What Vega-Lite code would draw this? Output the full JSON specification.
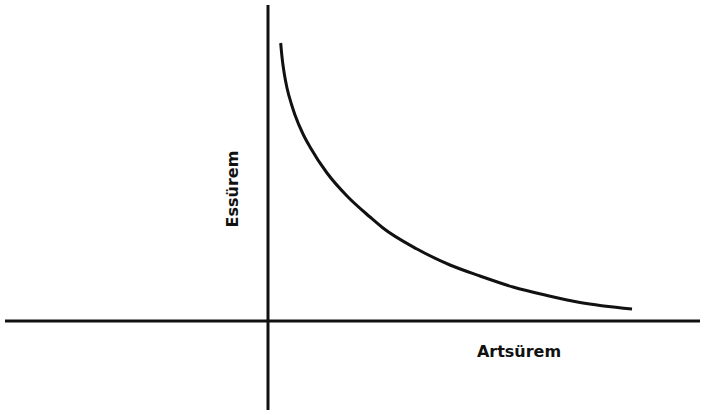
{
  "$schema": "https://vega.github.io/schema/vega-lite/v6.json",
  "width": 705,
  "height": 415,
  "autosize": {"type": "fit", "contains": "padding"},
  "padding": 0,
  "background": "white",
  "config": {"view": {"stroke": null}},
  "datasets": {
    "curve": [
      {"x": 0.127, "y": 2.78},
      {"x": 0.14, "y": 2.64},
      {"x": 0.16, "y": 2.49},
      {"x": 0.19, "y": 2.33},
      {"x": 0.237, "y": 2.16},
      {"x": 0.27, "y": 2.06},
      {"x": 0.35, "y": 1.87},
      {"x": 0.42, "y": 1.74},
      {"x": 0.59, "y": 1.48},
      {"x": 0.79, "y": 1.25},
      {"x": 1.02, "y": 1.04},
      {"x": 1.15, "y": 0.93},
      {"x": 1.49, "y": 0.72},
      {"x": 1.82, "y": 0.56},
      {"x": 2.12, "y": 0.45},
      {"x": 2.45, "y": 0.34},
      {"x": 2.79, "y": 0.255},
      {"x": 3.12, "y": 0.185},
      {"x": 3.64, "y": 0.12}
    ],
    "axes": [
      {"x": 0, "x2": 0, "y": -0.89, "y2": 3.16},
      {"x": -2.63, "x2": 4.32, "y": 0, "y2": 0}
    ],
    "labels": [
      {"x": 2.51, "y": -0.31, "label": "Artsürem", "angle": 0},
      {"x": -0.35, "y": 1.32, "label": "Essürem", "angle": 270}
    ]
  },
  "layer": [
    {
      "data": {"name": "axes"},
      "mark": {"type": "rule", "color": "#111111", "strokeWidth": 3},
      "encoding": {
        "x": {"field": "x", "type": "quantitative", "scale": {"domain": [-2.68, 4.37], "nice": false, "zero": false}, "axis": null},
        "x2": {"field": "x2"},
        "y": {"field": "y", "type": "quantitative", "scale": {"domain": [-0.94, 3.21], "nice": false, "zero": false}, "axis": null},
        "y2": {"field": "y2"}
      }
    },
    {
      "data": {"name": "curve"},
      "mark": {"type": "line", "color": "#111111", "strokeWidth": 3, "interpolate": "monotone"},
      "encoding": {
        "x": {"field": "x", "type": "quantitative"},
        "y": {"field": "y", "type": "quantitative"}
      }
    },
    {
      "data": {"name": "labels"},
      "mark": {"type": "text", "font": "DejaVu Sans", "fontWeight": "bold", "fontSize": 16, "color": "#111111", "align": "center", "baseline": "middle"},
      "encoding": {
        "x": {"field": "x", "type": "quantitative"},
        "y": {"field": "y", "type": "quantitative"},
        "text": {"field": "label"},
        "angle": {"field": "angle", "type": "quantitative", "scale": null}
      }
    }
  ]
}
